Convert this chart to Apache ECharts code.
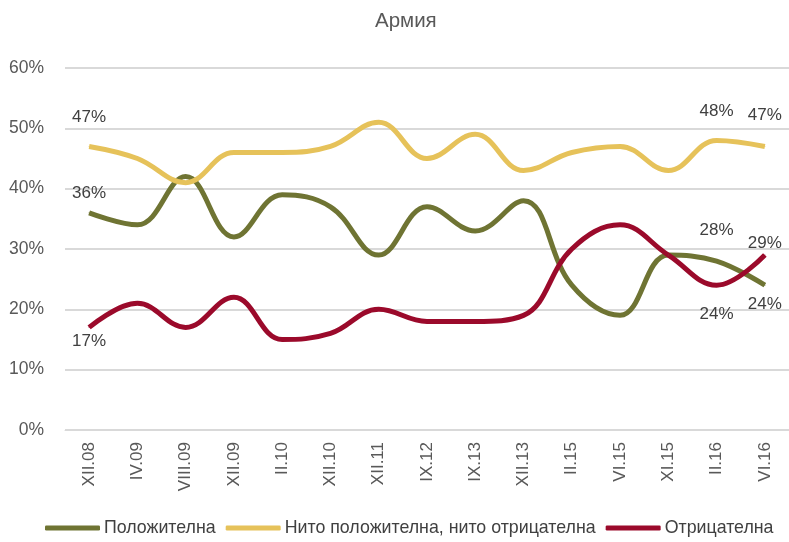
<!DOCTYPE html>
<html><head><meta charset="utf-8">
<script src="https://cdn.jsdelivr.net/npm/echarts@6/dist/echarts.min.js"></script>
<style>html,body{margin:0;padding:0;background:#fff}#c{width:789px;height:542px}</style>
</head><body><div id="c"></div>
<script>
const categories = ['XII.08','IV.09','VIII.09','XII.09','II.10','XII.10','XII.11','IX.12','IX.13','XII.13','II.15','VI.15','XI.15','II.16','VI.16'];
const positive = [36,34,42,32,39,37,29,37,33,38,24,19,29,28,24];
const neutral  = [47,45,41,46,46,47,51,45,49,43,46,47,43,48,47];
const negative = [17,21,17,22,15,16,20,18,18,19,30,34,29,24,29];
const yTicks = [0,10,20,30,40,50,60];
const seriesNames = ['Положителна','Нито положителна, нито отрицателна','Отрицателна'];
const colors = ['#6f7433','#e6c25a','#9b0a2b'];
const font = "'Liberation Sans',Arial,sans-serif";
const labelIdx = [0, 13, 14];
function lbl(spec){
  return {show:true, position:spec[0], distance:spec[1], formatter:p=>p.value+'%', color:'#404040', fontSize:17, fontFamily:font};
}
function mk(name, data, color, specs){
  return {
    name, type:'line', smooth:0.4, symbol:'circle', symbolSize:1, showSymbol:true, data: data.map((v,i)=>{
      const k = labelIdx.indexOf(i);
      return k>=0 ? {value:v, label:lbl(specs[k])} : v;
    }),
    lineStyle:{width:5, color}, itemStyle:{color},
    label:{show:false}, emphasis:{disabled:true}
  };
}
const chart = echarts.init(document.getElementById('c'));
chart.setOption({
  animation:false,
  color:colors,
  title:{text:'Армия', left:370, top:6, textStyle:{color:'#595959', fontSize:20.5, fontWeight:'normal', fontFamily:font}},
  legend:{bottom:0, left:40, itemWidth:55, itemHeight:5, icon:'roundRect', itemGap:10,
    textStyle:{color:'#404040', fontSize:17.8, fontFamily:font, padding:[0,0,0,-1]}, data:seriesNames},
  grid:{left:65, right:0, top:68, bottom:112, containLabel:false},
  xAxis:{type:'category', data:categories, boundaryGap:true,
    axisLine:{lineStyle:{color:'#d9d9d9', width:1}}, axisTick:{show:false},
    axisLabel:{rotate:90, color:'#595959', fontSize:17, fontFamily:font, margin:12, interval:0}},
  yAxis:{type:'value', min:0, max:60, interval:10,
    axisLabel:{formatter:'{value}%', color:'#595959', fontSize:17.5, fontFamily:font, margin:21},
    splitLine:{lineStyle:{color:'#d9d9d9', width:2}}, axisLine:{show:false}, axisTick:{show:false}},
  series:[
    mk(seriesNames[0], positive, colors[0], [['top',10],['top',22],['bottom',10]]),
    mk(seriesNames[1], neutral, colors[1], [['top',20],['top',20],['top',22]]),
    mk(seriesNames[2], negative, colors[2], [['bottom',5],['bottom',20],['top',3]])
  ]
});
</script></body></html>
